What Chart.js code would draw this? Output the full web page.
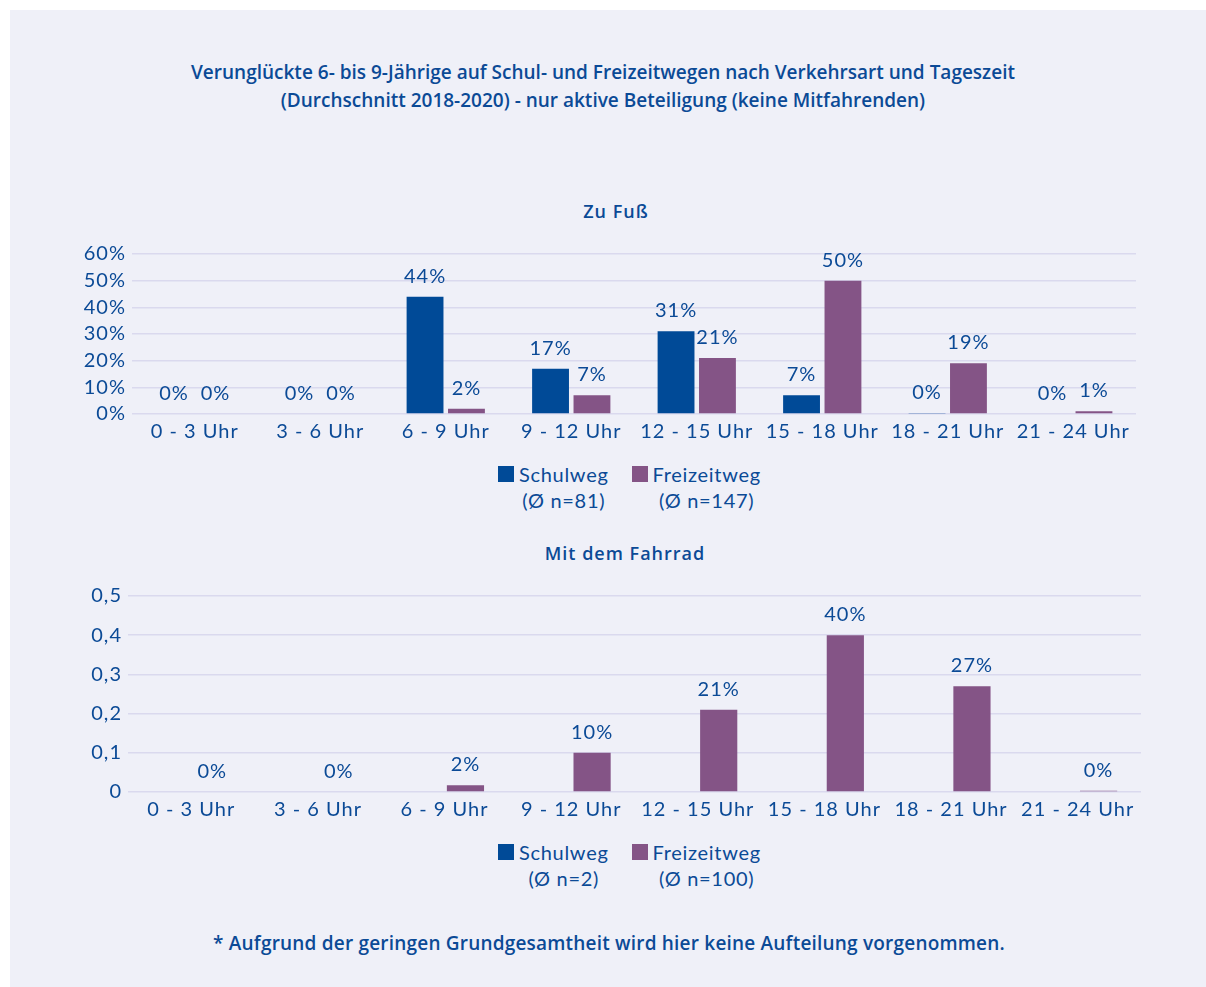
<!DOCTYPE html>
<html lang="de">
<head>
<meta charset="utf-8">
<script src="https://cdn.jsdelivr.net/npm/chart.js@4.4.1/dist/chart.umd.min.js"></script>
<style>
  html, body { margin: 0; padding: 0; background: #ffffff; }
  body { width: 1206px; height: 987px; position: relative; overflow: hidden; font-family: 'Lato', sans-serif; color: #0b4a96; }
  #panel { position: absolute; left: 10px; top: 10px; width: 1196px; height: 977px; background: #eff0f8; }
  .abs { position: absolute; }
  .head { font-family: 'Open Sans', sans-serif; font-weight: 600; text-align: center; }
  #title { left: 0; width: 1206px; top: 58px; font-size: 19px; line-height: 28px; }
  .sub { font-size: 18px; line-height: 24px; letter-spacing: 1px; width: 400px; }
  #foot { left: 0; width: 1218px; top: 930px; font-size: 19px; letter-spacing: 0.2px; }
  .legend { display: flex; align-items: flex-start; gap: 23px; font-size: 20px; line-height: 26px; letter-spacing: 0.7px; }
  .legend .item { display: flex; align-items: flex-start; }
  .legend .sw { width: 16px; height: 16px; margin: 5px 5px 0 0; }
  .legend .txt { text-align: center; }
</style>
</head>
<body>
<div id="panel"></div>
<div id="title" class="abs head">Verunglückte 6- bis 9-Jährige auf Schul- und Freizeitwegen nach Verkehrsart und Tageszeit<br>(Durchschnitt 2018-2020) - nur aktive Beteiligung (keine Mitfahrenden)</div>

<div class="abs head sub" style="left:416px; top:199px;">Zu Fuß</div>
<div class="abs" style="left:10px; top:236px; width:1196px; height:214px;"><canvas id="chartFuss"></canvas></div>
<div class="abs legend" id="legendFuss" style="left:498px; top:461px;"></div>

<div class="abs head sub" style="left:425px; top:541px;">Mit dem Fahrrad</div>
<div class="abs" style="left:10px; top:578px; width:1196px; height:250px;"><canvas id="chartRad"></canvas></div>
<div class="abs legend" id="legendRad" style="left:498px; top:839px;"></div>

<div id="foot" class="abs head">* Aufgrund der geringen Grundgesamtheit wird hier keine Aufteilung vorgenommen.</div>

<script>
const labels = ['0 - 3 Uhr', '3 - 6 Uhr', '6 - 9 Uhr', '9 - 12 Uhr', '12 - 15 Uhr', '15 - 18 Uhr', '18 - 21 Uhr', '21 - 24 Uhr'];

// Zu Fuß, Anteile in Prozent
const fussSchulweg = [0, 0, 44, 17, 31, 7, 0.4, 0];
const fussFreizeitweg = [0, 0, 2, 7, 21, 50, 19, 1];
const fussN = ['(Ø n=81)', '(Ø n=147)'];

// Mit dem Fahrrad, Anteile als Bruch (Schulweg nicht aufgeteilt)
const radSchulweg = [null, null, null, null, null, null, null, null];
const radFreizeitweg = [0, 0, 0.017, 0.10, 0.21, 0.40, 0.27, 0.003];
const radN = ['(Ø n=2)', '(Ø n=100)'];

const seriesNames = ['Schulweg', 'Freizeitweg'];
const colors = ['#004a97', '#845486'];
const textColor = '#0b4a96';
const gridColor = '#dad9ee';
const fontFamily = "'Lato', sans-serif";

document.addEventListener('DOMContentLoaded', () => {
  buildLegend('legendFuss', fussN);
  buildLegend('legendRad', radN);
  chartInit();
});

function buildLegend(id, nTexts) {
  const el = document.getElementById(id);
  seriesNames.forEach((name, i) => {
    const item = document.createElement('div');
    item.className = 'item';
    item.innerHTML = '<div class="sw" style="background:' + colors[i] + '"></div>' +
      '<div class="txt">' + name + '<br>' + nTexts[i] + '</div>';
    el.appendChild(item);
  });
}

// the original font runs wider, so space the canvas text a little
const spacing = {
  id: 'spacing',
  beforeLayout(chart) { chart.ctx.letterSpacing = '1px'; },
  beforeDraw(chart) { chart.ctx.letterSpacing = '1px'; }
};

const barLabels = {
  id: 'barLabels',
  afterDatasetsDraw(chart, args, opts) {
    const ctx = chart.ctx;
    ctx.save();
    ctx.font = '20px ' + fontFamily;
    ctx.fillStyle = textColor;
    ctx.textAlign = 'center';
    ctx.textBaseline = 'alphabetic';
    chart.data.datasets.forEach((ds, di) => {
      if (ds.noLabels) return;
      chart.getDatasetMeta(di).data.forEach((bar, i) => {
        const v = ds.data[i];
        if (v === null) return;
        ctx.fillText(opts.format(v), bar.x, bar.y - 14);
      });
    });
    ctx.restore();
  }
};

function makeOptions(yOpts, axisWidth, padRight, fmt) {
  return {
    responsive: true,
    maintainAspectRatio: false,
    animation: false,
    layout: { padding: { left: 0, right: padRight, top: 13, bottom: 0 } },
    datasets: { bar: { categoryPercentage: 0.66, barPercentage: 0.89 } },
    scales: {
      x: {
        grid: { display: false, drawTicks: false },
        border: { display: false },
        ticks: { color: textColor, font: { family: fontFamily, size: 20 }, padding: 6, maxRotation: 0, autoSkip: false }
      },
      y: Object.assign({
        beginAtZero: true,
        afterFit(scale) { scale.width = axisWidth; },
        grid: { color: gridColor, lineWidth: 1.5, drawTicks: false },
        border: { display: false },
      }, yOpts)
    },
    plugins: {
      legend: { display: false },
      tooltip: { enabled: false },
      barLabels: { format: fmt }
    }
  };
}

function chartInit() {
  new Chart(document.getElementById('chartFuss'), {
    type: 'bar',
    data: {
      labels: labels,
      datasets: [
        { label: seriesNames[0], data: fussSchulweg, backgroundColor: colors[0] },
        { label: seriesNames[1], data: fussFreizeitweg, backgroundColor: colors[1] }
      ]
    },
    options: makeOptions({
      min: 0, max: 60,
      ticks: { stepSize: 10, autoSkip: false, color: textColor, padding: 6, font: { family: fontFamily, size: 20 }, callback: v => v + '%' }
    }, 122, 70, v => Math.round(v) + '%'),
    plugins: [spacing, barLabels]
  });

  new Chart(document.getElementById('chartRad'), {
    type: 'bar',
    data: {
      labels: labels,
      datasets: [
        { label: seriesNames[0], data: radSchulweg, backgroundColor: colors[0], noLabels: true },
        { label: seriesNames[1], data: radFreizeitweg, backgroundColor: colors[1] }
      ]
    },
    options: makeOptions({
      min: 0, max: 0.5,
      ticks: { stepSize: 0.1, autoSkip: false, color: textColor, padding: 6, font: { family: fontFamily, size: 20 },
        callback: v => v === 0 ? '0' : v.toFixed(1).replace('.', ',') }
    }, 118, 65, v => Math.round(v * 100) + '%'),
    plugins: [spacing, barLabels]
  });
}
</script>
</body>
</html>
